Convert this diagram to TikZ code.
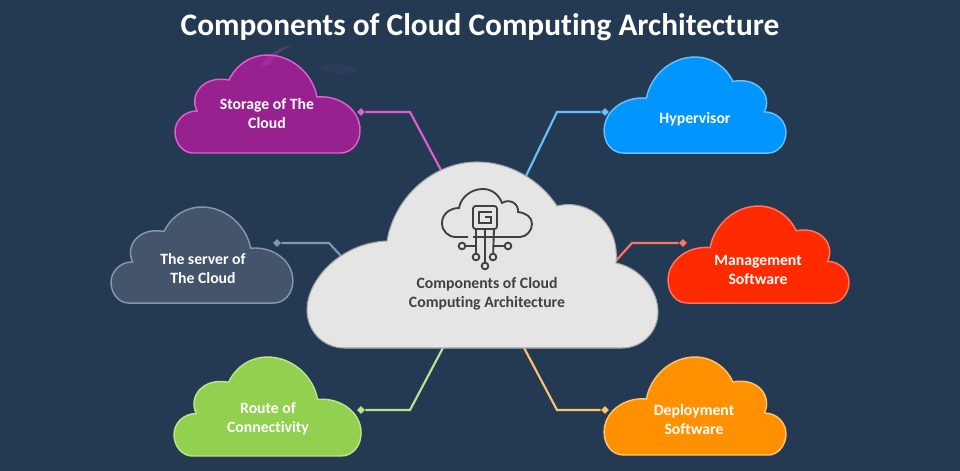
\documentclass[tikz,border=0pt]{standalone}
\usepackage{fontspec}
\setmainfont[Ligatures=NoCommon]{Carlito}
\usetikzlibrary{shapes.geometric}
\definecolor{bgblue}{HTML}{243A53}
\definecolor{iconink}{HTML}{404040}
\definecolor{storagefill}{HTML}{96218F}
\definecolor{storageline}{HTML}{DE5FD0}
\definecolor{hyperfill}{HTML}{0095FF}
\definecolor{hyperline}{HTML}{66BFFF}
\definecolor{serverfill}{HTML}{44546A}
\definecolor{serverline}{HTML}{8497B0}
\definecolor{managefill}{HTML}{FF2A00}
\definecolor{manageline}{HTML}{FF7560}
\definecolor{routefill}{HTML}{92D050}
\definecolor{routeline}{HTML}{BDE38D}
\definecolor{deployfill}{HTML}{FF9100}
\definecolor{deployline}{HTML}{FFC36E}
\tikzset{
    smallcloud/.style={line width=1.1pt,draw=#1},
    spoke/.style={line width=1.6pt,draw=#1},
    tip/.style={diamond,fill=#1,inner sep=0pt,minimum size=6pt},
    cloudtext/.style={align=center,text=white,font=\fontsize{11.8}{14.2}\selectfont\bfseries},
    iconline/.style={draw=iconink,line width=1.4pt},
    iconpad/.style={circle,draw=iconink,line width=1.4pt,inner sep=0pt,minimum size=5pt}
}
\newcommand{\cloudpath}{(18,98) .. controls (8,98) and (0,88) .. (0,77) .. controls (0,66) and (9,56) .. (22,56) .. controls (14,40) and (28,20) .. (54,25) .. controls (62,8) and (78,0) .. (92,0) .. controls (118,0) and (138,20) .. (142,42) .. controls (165,40) and (185,55) .. (185,75) .. controls (185,88) and (177,98) .. (165,98) -- cycle}
\begin{document}
\begin{tikzpicture}[x=0.75pt,y=-0.75pt]
    \useasboundingbox (0,0) rectangle (960,471);
    \fill[bgblue] (0,0) rectangle (960,471);
    \node[text=white,font=\fontsize{23.5}{30}\selectfont\bfseries] (title) at (480,27.5) {Components of Cloud Computing Architecture};

    % spokes go under the big cloud
    \node[tip=storageline] (storagetip) at (361,112) {};
    \coordinate (storagebend) at (410,112);
    \coordinate (storagefoot) at (442,172);
    \draw[spoke=storageline] (storagetip) -- (storagebend) -- (storagefoot);
    \node[tip=hyperline] (hypertip) at (605,112) {};
    \coordinate (hyperbend) at (557,112);
    \coordinate (hyperfoot) at (525,178);
    \draw[spoke=hyperline] (hypertip) -- (hyperbend) -- (hyperfoot);
    \node[tip=serverline] (servertip) at (277,243) {};
    \coordinate (serverbend) at (329,243);
    \coordinate (serverfoot) at (342,257);
    \draw[spoke=serverline] (servertip) -- (serverbend) -- (serverfoot);
    \node[tip=manageline] (managetip) at (683,243) {};
    \coordinate (managebend) at (632,243);
    \coordinate (managefoot) at (612,265);
    \draw[spoke=manageline] (managetip) -- (managebend) -- (managefoot);
    \node[tip=routeline] (routetip) at (361,410) {};
    \coordinate (routebend) at (410,410);
    \coordinate (routefoot) at (445,344);
    \draw[spoke=routeline] (routetip) -- (routebend) -- (routefoot);
    \node[tip=deployline] (deploytip) at (605,410) {};
    \coordinate (deploybend) at (557,410);
    \coordinate (deployfoot) at (522,344);
    \draw[spoke=deployline] (deploytip) -- (deploybend) -- (deployfoot);

    % small clouds, the ones on the right are mirrored
    \draw[smallcloud=storageline,fill=storagefill,shift={(175,55)}] \cloudpath;
    \fill[storageline,opacity=0.2] (261,66) .. controls (268,54) and (280,47) .. (292,45) .. controls (282,50) and (274,56) .. (270,65) -- cycle;
    \fill[storageline,opacity=0.06] (316,68) .. controls (330,62) and (345,64) .. (358,70) .. controls (345,76) and (330,74) .. (316,68) -- cycle;
    \draw[smallcloud=hyperline,fill=hyperfill,shift={(786,57)},xscale=-0.983,yscale=0.98] \cloudpath;
    \draw[smallcloud=serverline,fill=serverfill,shift={(111,207)},xscale=0.983,yscale=0.98] \cloudpath;
    \draw[smallcloud=manageline,fill=managefill,shift={(849,206)},xscale=-0.978,yscale=0.99] \cloudpath;
    \draw[smallcloud=routeline,fill=routefill,shift={(174,357)},xscale=1.011,yscale=1.01] \cloudpath;
    \draw[smallcloud=deployline,fill=deployfill,shift={(786,357)},xscale=-0.983] \cloudpath;
    \node[cloudtext] (storage) at (267,114) {Storage of The\\Cloud};
    \node[cloudtext] (hyper) at (695,119) {Hypervisor};
    \node[cloudtext] (server) at (203,268.5) {The server of\\The Cloud};
    \node[cloudtext] (manage) at (758,269.5) {Management\\Software};
    \node[cloudtext] (route) at (268,418.5) {Route of\\Connectivity};
    \node[cloudtext] (deploy) at (694,419.5) {Deployment\\Software};

    % big cloud
    \draw[fill=black!10,draw=black!35,line width=0.8pt] (345,348) .. controls (322,348) and (307,330) .. (307,310) .. controls (307,280) and (340,243) .. (387,241) .. controls (395,195) and (435,162) .. (477,162) .. controls (510,162) and (540,180) .. (557,206) .. controls (590,198) and (620,225) .. (616,263) .. controls (640,268) and (658,290) .. (658,312) .. controls (658,332) and (642,348) .. (622,348) -- cycle;
    \node[cloudtext,text=iconink] (centre) at (487,294) {Components of Cloud\\Computing Architecture};

    % icon
    \draw[iconline] (468,237) -- (456,237) .. controls (448,237) and (442,231) .. (442,223) .. controls (442,214) and (450,208) .. (459,208) .. controls (461,197) and (471,189) .. (483,189) .. controls (492,189) and (499,195) .. (502,203) .. controls (510,198) and (519,204) .. (518,212) .. controls (526,213) and (532,217) .. (532,224) .. controls (532,231) and (526,237) .. (520,237) -- (473,237);
    \draw[iconline,rounded corners=2pt,fill=black!10] (473,206) rectangle (497,229);
    \draw[iconline] (492,212) -- (479,212) -- (479,223) -- (491,223) -- (491,217) -- (485,217);
    \node[iconpad] (padleft) at (462,246) {};
    \node[iconpad] (padright) at (508,246) {};
    \node[iconpad] (padlow) at (476,257) {};
    \node[iconpad] (padhigh) at (493,257) {};
    \node[iconpad] (padmid) at (485,266) {};
    \coordinate (legleft) at (476,229);
    \coordinate (legmid) at (485,229);
    \coordinate (legright) at (494,229);
    \draw[iconline] (legleft) -- (padlow);
    \draw[iconline] (legmid) -- (padmid);
    \draw[iconline] (legright) -- (padhigh);
    \draw[iconline] (padleft) -- (padleft -| legleft);
    \draw[iconline] (padright) -- (padright -| legright);
\end{tikzpicture}
\end{document}
